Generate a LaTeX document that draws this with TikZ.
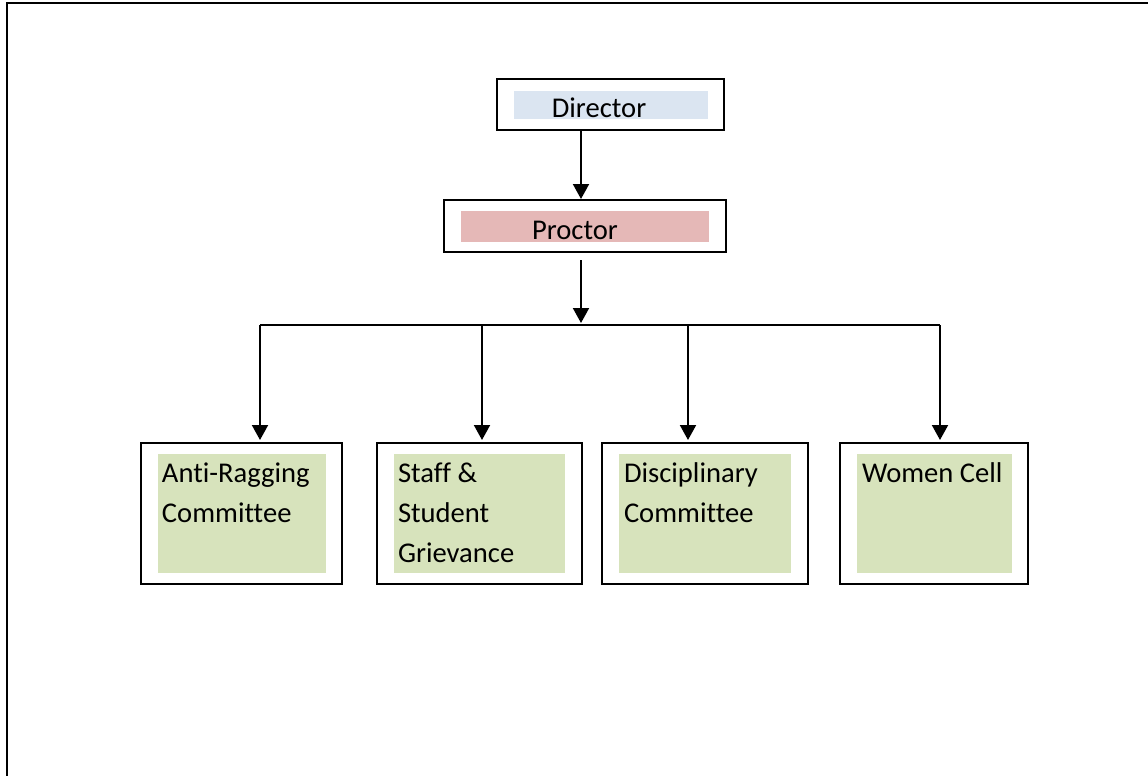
\documentclass[tikz,border=0pt]{standalone}
\usepackage{fontspec}
\setmainfont{Carlito}[Ligatures=CommonOff]
\usepackage{xcolor}
\usetikzlibrary{arrows.meta}
\definecolor{dirblue}{RGB}{219,229,241}
\definecolor{procpink}{RGB}{229,184,183}
\definecolor{cellgreen}{RGB}{215,227,188}

\begin{document}
\begin{tikzpicture}[x=0.5pt,y=-0.5pt,
    box/.style={draw, line width=1pt, fill=white, inner sep=0pt},
    shadebox/.style={inner sep=0pt, draw=none},
    boxtext/.style={inner sep=0pt, anchor=north west, align=left, font=\fontsize{14.3}{20}\selectfont},
    arr/.style={line width=1pt, -{Triangle[width=8pt,length=7.5pt]}}]
    \useasboundingbox (0,0) rectangle (1148,776);
    \draw[line width=1pt] (7,776) -- (7,3) -- (1148,3);

    \node[box, minimum width=113.5pt, minimum height=25.5pt] (dirbox) at (610.5,104.5) {};
    \node[shadebox, fill=dirblue, minimum width=97pt, minimum height=14pt] (dirshade) at (611,105) {};
    \node[anchor=base, inner sep=0pt, font=\fontsize{14.3}{20}\selectfont] (dirtext) at (599,118) {Director};

    \node[box, minimum width=141pt, minimum height=26pt] (procbox) at (585,226) {};
    \node[shadebox, fill=procpink, minimum width=124pt, minimum height=15.5pt] (procshade) at (585,226.5) {};
    \node[anchor=base, inner sep=0pt, font=\fontsize{14.3}{20}\selectfont] (proctext) at (575,239) {Proctor};

    \node[box, minimum width=100.5pt, minimum height=70.5pt] (ragbox) at (241.5,513.5) {};
    \node[box, minimum width=102.5pt, minimum height=70.5pt] (grievbox) at (479.5,513.5) {};
    \node[box, minimum width=103pt, minimum height=70.5pt] (discbox) at (705,513.5) {};
    \node[box, minimum width=94pt, minimum height=70.5pt] (womenbox) at (934,513.5) {};

    \node[shadebox, fill=cellgreen, minimum width=84pt, minimum height=59.5pt] (ragshade) at (242,513.5) {};
    \node[shadebox, fill=cellgreen, minimum width=85.5pt, minimum height=59.5pt] (grievshade) at (479.5,513.5) {};
    \node[shadebox, fill=cellgreen, minimum width=86pt, minimum height=59.5pt] (discshade) at (705,513.5) {};
    \node[shadebox, fill=cellgreen, minimum width=77.5pt, minimum height=59.5pt] (womenshade) at (934.5,513.5) {};

    \node[boxtext] (ragtext) at ([xshift=2pt]ragshade.north west) {\strut Anti-Ragging\\Committee};
    \node[boxtext] (grievtext) at ([xshift=2pt]grievshade.north west) {\strut Staff \&\\Student\\Grievance};
    \node[boxtext] (disctext) at ([xshift=2.5pt]discshade.north west) {\strut Disciplinary\\Committee};
    \node[boxtext] (womentext) at ([xshift=2.5pt]womenshade.north west) {\strut Women Cell};

    \coordinate (spine) at (581,325);
    \coordinate (drop1) at (260,325);
    \coordinate (drop2) at (482,325);
    \coordinate (drop3) at (688,325);
    \coordinate (drop4) at (940,325);

    \draw[arr] (dirbox.south -| spine) -- (procbox.north -| spine);
    \draw[arr, shorten <=3.5pt, shorten >=1pt] (procbox.south -| spine) -- (spine);
    \draw[line width=1pt] (drop1) -- (drop4);
    \foreach \d/\tgt in {drop1/ragbox, drop2/grievbox, drop3/discbox, drop4/womenbox}
        \draw[arr, shorten >=1pt] (\d) -- (\d |- \tgt.north);
\end{tikzpicture}
\end{document}
